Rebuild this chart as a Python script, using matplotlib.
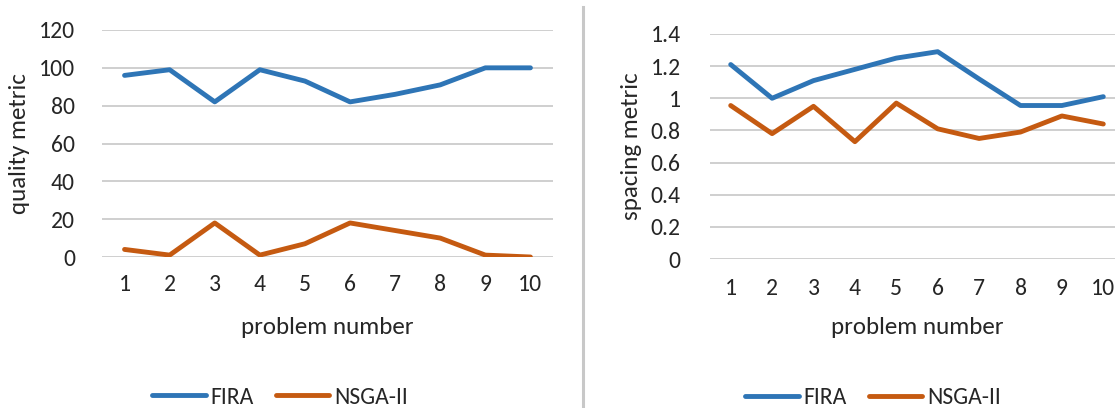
import matplotlib
matplotlib.use("Agg")
import matplotlib.pyplot as plt
from matplotlib.lines import Line2D

problems = [1, 2, 3, 4, 5, 6, 7, 8, 9, 10]
quality_fira = [96, 99, 82, 99, 93, 82, 86, 91, 100, 100]
quality_nsga = [4, 1, 18, 1, 7, 18, 14, 10, 1, 0]
spacing_fira = [1.21, 1.00, 1.11, 1.18, 1.25, 1.29, 1.12, 0.955, 0.955, 1.01]
spacing_nsga = [0.955, 0.78, 0.95, 0.73, 0.97, 0.81, 0.75, 0.79, 0.89, 0.84]
series_names = ["FIRA", "NSGA-II"]

blue = "#2e75b6"
orange = "#c55a11"
grid_c = "#cfcfcf"
txt_c = "#262626"

plt.rcParams["font.family"] = ["Carlito", "Liberation Sans Narrow", "DejaVu Sans"]

W, H = 1115, 408
fig = plt.figure(figsize=(W / 100, H / 100), dpi=100)


def px_axes(left, top, right, bottom):
    return fig.add_axes([left / W, 1 - bottom / H, (right - left) / W, (bottom - top) / H])


def style(ax, ymax, yticks, ylabels, xpad, ypad):
    ax.set_xlim(0.5, 10.5)
    ax.set_ylim(0, ymax)
    ax.set_xticks(problems)
    ax.set_xticklabels([str(p) for p in problems])
    ax.set_yticks(yticks)
    ax.set_yticklabels(ylabels)
    for s in ax.spines.values():
        s.set_visible(False)
    ax.grid(axis="y", color=grid_c, linewidth=1.4)
    ax.set_axisbelow(True)
    ax.tick_params(axis="both", length=0, colors=txt_c, labelsize=17)
    ax.tick_params(axis="x", pad=xpad)
    ax.tick_params(axis="y", pad=ypad)


# left panel
ax1 = px_axes(102, 30, 553, 257)
l1, = ax1.plot(problems, quality_fira, color=blue, lw=3.5, solid_capstyle="round")
l2, = ax1.plot(problems, quality_nsga, color=orange, lw=3.5, solid_capstyle="round")
style(ax1, 120, [0, 20, 40, 60, 80, 100, 120], ["0", "20", "40", "60", "80", "100", "120"], 12, 19.5)
fig.text(327 / W, 1 - 327 / H, "problem number", ha="center", va="center", color=txt_c, fontsize=18)
fig.text(20 / W, 1 - 144 / H, "quality metric", ha="center", va="center", rotation=90, color=txt_c, fontsize=18)

# right panel
ax2 = px_axes(710, 34, 1124, 259)
r1, = ax2.plot(problems, spacing_fira, color=blue, lw=3.5, solid_capstyle="round")
r2, = ax2.plot(problems, spacing_nsga, color=orange, lw=3.5, solid_capstyle="round")
style(ax2, 1.4, [0, 0.2, 0.4, 0.6, 0.8, 1.0, 1.2, 1.4],
      ["0", "0.2", "0.4", "0.6", "0.8", "1", "1.2", "1.4"], 14, 21)
fig.text(917 / W, 1 - 328 / H, "problem number", ha="center", va="center", color=txt_c, fontsize=18)
fig.text(632 / W, 1 - 146 / H, "spacing metric", ha="center", va="center", rotation=90, color=txt_c, fontsize=18)

# legends
for cx, cy in [(280, 397), (873, 398)]:
    fig.legend([l1, l2], series_names, loc="center", bbox_to_anchor=(cx / W, 1 - cy / H),
               ncol=2, frameon=False, handlelength=2.25, handletextpad=0.2,
               columnspacing=0.95, fontsize=17, labelcolor=txt_c)

# divider between panels
fig.add_artist(Line2D([583 / W, 583 / W], [0, 1 - 7 / H], color="#c8c8c8", lw=2.2))

fig.savefig("out.png", dpi=100, facecolor="white")
